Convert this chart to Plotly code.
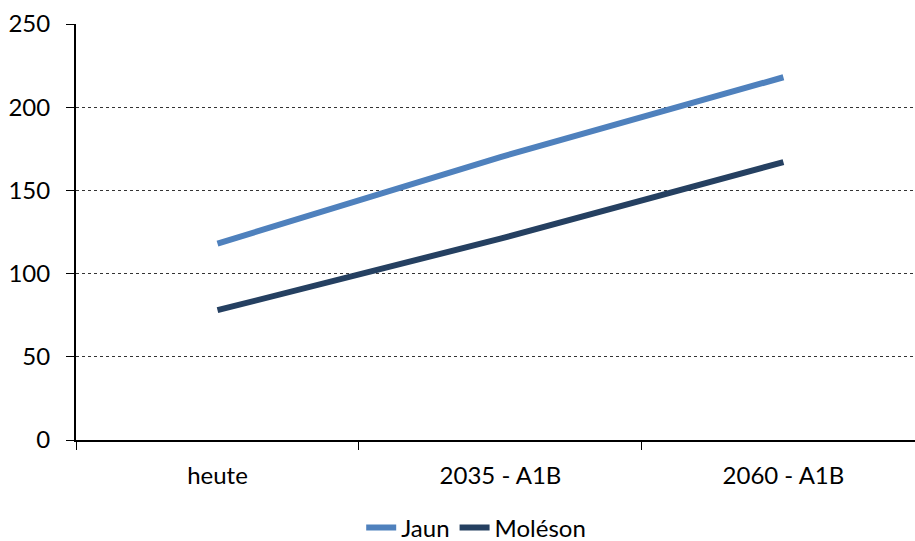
import plotly.graph_objects as go

categories = ["heute", "2035 - A1B", "2060 - A1B"]
jaun = [118, 170, 218]
moleson = [78, 121, 167]
y_ticks = [0, 50, 100, 150, 200, 250]

FONT = "Lato"

fig = go.Figure()
fig.add_trace(go.Scatter(x=categories, y=jaun, name="Jaun", mode="lines",
                         line=dict(color="#4F81BD", width=6)))
fig.add_trace(go.Scatter(x=categories, y=moleson, name="Moléson", mode="lines",
                         line=dict(color="#254061", width=6)))

fig.update_layout(
    width=915, height=541,
    margin=dict(l=76, r=0, t=24, b=101, autoexpand=False),
    plot_bgcolor="white", paper_bgcolor="white",
    font=dict(family=FONT, size=24, color="black"),
    showlegend=True,
    legend=dict(orientation="h", x=0.477, xanchor="center",
                yref="container", y=13 / 541, yanchor="middle",
                font=dict(size=24), itemwidth=30, tracegroupgap=0),
    xaxis=dict(type="category", range=[-0.5, 2.465], tickson="boundaries",
               ticks="outside", ticklen=8, tickcolor="black", tickwidth=1,
               showline=True, linecolor="black", linewidth=2, showgrid=False,
               ticklabelstandoff=13, fixedrange=True, automargin=False),
    yaxis=dict(range=[0, 250], tickvals=y_ticks, ticks="outside", ticklen=8,
               tickcolor="black", tickwidth=1, showline=True, linecolor="black",
               linewidth=2, showgrid=True, gridcolor="#333333", griddash="dot",
               gridwidth=1, zeroline=False, ticklabelstandoff=11, fixedrange=True,
               automargin=False),
)

fig.write_html("out.html")
